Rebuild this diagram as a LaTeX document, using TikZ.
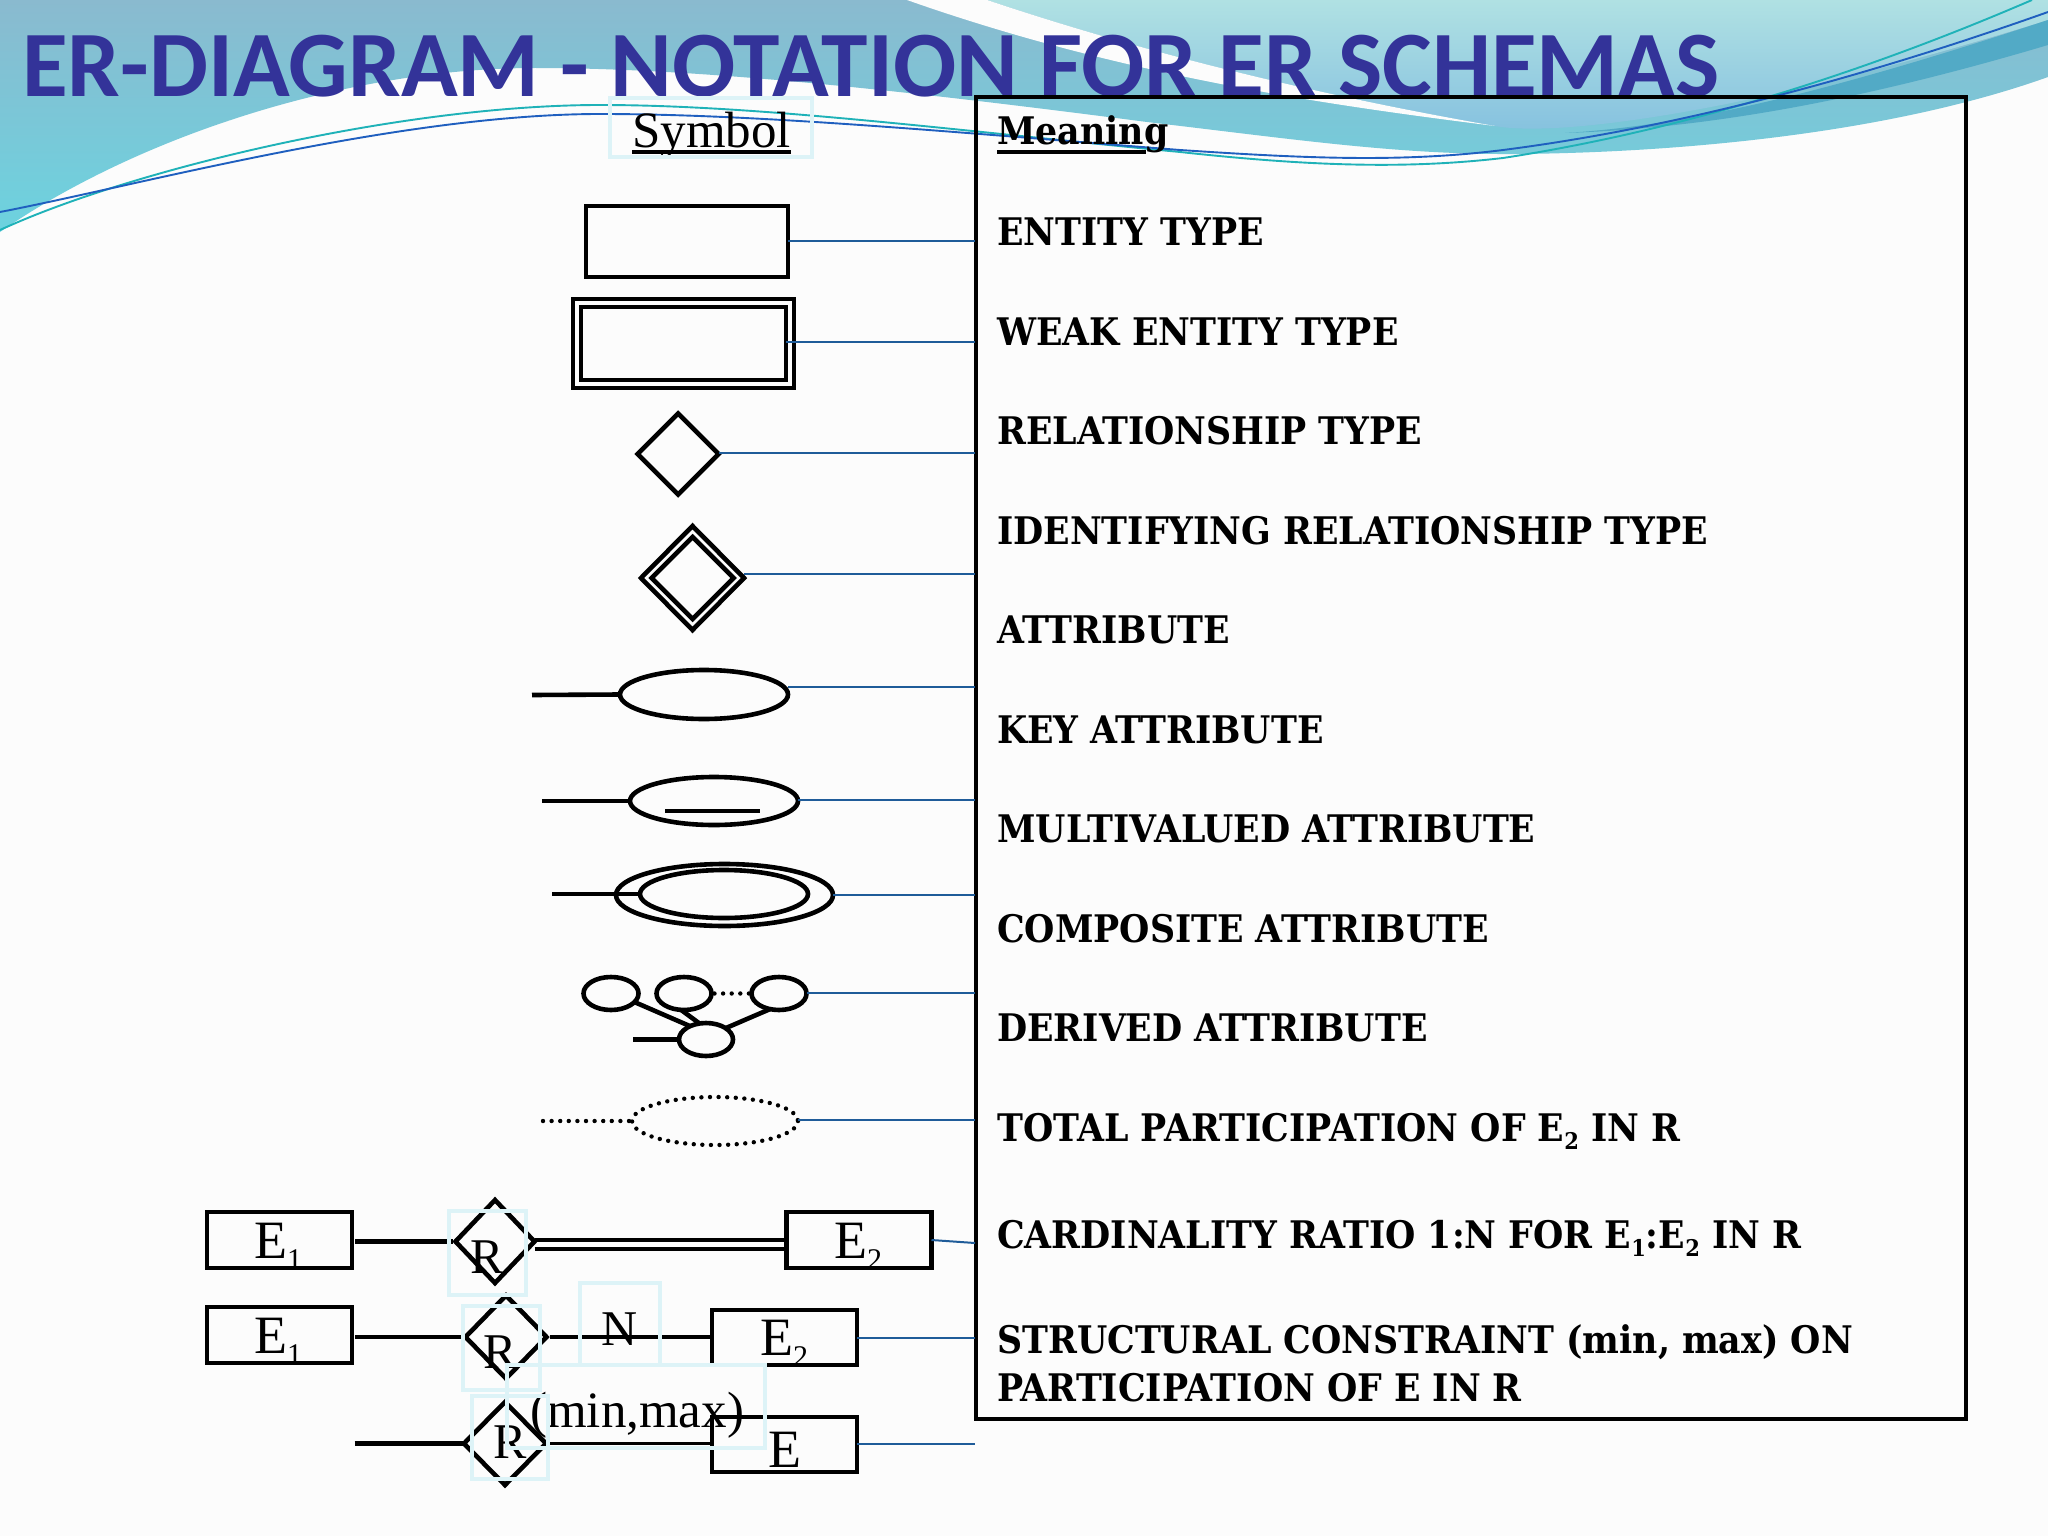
\documentclass[tikz,border=0pt]{standalone}
\usepackage{fontspec}
\setmainfont{Liberation Serif}
\newfontfamily\titlefont{Carlito}
\newfontfamily\meanfont[FakeStretch=0.915]{DejaVu Serif}
\usetikzlibrary{shapes.geometric,calc}
\definecolor{pagebg}{HTML}{FCFCFC}
\definecolor{waveA}{HTML}{8ABACF}
\definecolor{waveB}{HTML}{84C4D5}
\definecolor{waveC}{HTML}{6CD3DF}
\definecolor{waveTop}{HTML}{B0E1E3}
\definecolor{waveLow}{HTML}{84C0DF}
\definecolor{waveDark}{HTML}{52AAC6}
\definecolor{curveTeal}{HTML}{1FB2B8}
\definecolor{curveBlue}{HTML}{1F5FBF}
\definecolor{titleblue}{HTML}{333399}
\definecolor{connblue}{HTML}{1F5C99}
\definecolor{ghost}{HTML}{DDF3F7}
\newcommand{\sbs}[2]{\raisebox{-0.22em}{\fontsize{#1}{#1}\selectfont #2}}
\newsavebox{\ulbox}
\newcommand{\ulword}[3]{\sbox{\ulbox}{#3}\rlap{\rule[#1]{\dimexpr\wd\ulbox-#2\relax}{3.6pt}}\usebox{\ulbox}}
\tikzset{
  shp/.style={draw=black,line width=4.6pt,inner sep=0pt,outer sep=0pt},
  ent/.style={shp,rectangle},
  rel/.style={shp,diamond},
  att/.style={shp,ellipse},
  dotline/.style={line width=4.4pt,line cap=round,dash pattern=on 0pt off 8.6pt},
  conn/.style={connblue,line width=2pt},
  lnk/.style={black,line width=4.6pt},
  lbl/.style={inner sep=0pt,anchor=base west},
  mean/.style={lbl,font=\meanfont\bfseries\fontsize{38}{38}\selectfont},
  sym/.style={lbl,font=\fontsize{54}{54}\selectfont},
  ghostbox/.style={draw=ghost,line width=3.4pt,inner sep=0pt,rectangle}
}
\begin{document}
\begin{tikzpicture}[x=1pt,y=-1pt]
\useasboundingbox (0,0) rectangle (2048,1536);
\fill[pagebg] (0,0) rectangle (2048,1536);
% waves
\shade[top color=waveA,middle color=waveB,bottom color=waveC]
  (0,232) .. controls (140,135) and (350,68) .. (535,68)
  .. controls (700,68) and (900,90) .. (1147,122)
  .. controls (1300,140) and (1400,155) .. (1520,154)
  .. controls (1700,152) and (1900,130) .. (2048,77)
  -- (2048,0) -- (0,0) -- cycle;
\shade[top color=waveTop,bottom color=waveLow]
  (987,0) .. controls (1130,48) and (1300,92) .. (1495,126)
  .. controls (1560,138) and (1760,110) .. (2048,20)
  -- (2048,0) -- cycle;
\fill[pagebg]
  (987,0) .. controls (1130,48) and (1300,92) .. (1495,126)
  .. controls (1320,104) and (1120,75) .. (907,0) -- cycle;
\fill[waveDark]
  (1565,133) .. controls (1700,125) and (1850,85) .. (2048,20)
  -- (2048,45) .. controls (1880,95) and (1720,128) .. (1565,133) -- cycle;
\draw[curveTeal,line width=1.9pt] (0,230) .. controls (130,170) and (400,105) .. (600,105)
  .. controls (760,105) and (950,130) .. (1180,152)
  .. controls (1300,165) and (1400,170) .. (1503,158)
  .. controls (1620,140) and (1800,100) .. (2032,0);
\draw[curveBlue,line width=1.9pt] (0,212) .. controls (140,185) and (400,114) .. (600,114)
  .. controls (760,114) and (950,132) .. (1180,150)
  .. controls (1300,158) and (1400,163) .. (1503,150)
  .. controls (1620,135) and (1800,100) .. (2048,12);
% title
\node[lbl,text=titleblue,font=\titlefont\bfseries\fontsize{93.6}{94}\selectfont] (title) at (22,97) {ER-DIAGRAM - NOTATION FOR ER SCHEMAS};
% meaning frame
\draw[black,line width=4.6pt] (976,97) rectangle (1966,1419);
% free ends of connectors on the frame
\foreach \n/\y in {m1/241,m2/342,m3/453,m4/574,m5/687,m6/800,m7/895,m8/993,m9/1120,m10/1243,m11/1338,m12/1444}
  \coordinate (\n) at (975,\y);
% texts
\node[sym,font=\fontsize{51}{51}\selectfont] (symh) at (632,148) {\ulword{-6pt}{0pt}{Symbol}};
\node[mean] (t0) at (997,145) {\ulword{-9pt}{22pt}{Meaning}};
\node[mean] (t1) at (997,245.5) {ENTITY TYPE};
\node[mean] (t2) at (997,345) {WEAK ENTITY TYPE};
\node[mean] (t3) at (997,444.5) {RELATIONSHIP TYPE};
\node[mean] (t4) at (997,544) {IDENTIFYING RELATIONSHIP TYPE};
\node[mean] (t5) at (997,643.5) {ATTRIBUTE};
\node[mean] (t6) at (997,743) {KEY ATTRIBUTE};
\node[mean] (t7) at (997,842.5) {MULTIVALUED ATTRIBUTE};
\node[mean] (t8) at (997,942) {COMPOSITE ATTRIBUTE};
\node[mean] (t9) at (997,1041.5) {DERIVED ATTRIBUTE};
\node[mean] (t10) at (997,1141) {TOTAL PARTICIPATION OF E\sbs{23}{2} IN R};
\node[mean] (t11) at (997,1248) {CARDINALITY RATIO 1:N FOR E\sbs{23}{1}:E\sbs{23}{2} IN R};
\node[mean] (t12) at (997,1353) {STRUCTURAL CONSTRAINT (min, max) ON};
\node[mean] (t13) at (997,1401) {PARTICIPATION OF E IN R};
% symbols
\node[ent,minimum width=202pt,minimum height=71pt] (ent1) at (687,241.5) {};
\node[ent,minimum width=221pt,minimum height=89pt] (wk1) at (683.5,343.5) {};
\node[ent,minimum width=205pt,minimum height=73pt] (wk2) at (683.5,343.5) {};
\node[rel,minimum width=81pt,minimum height=81pt] (rel1) at (678,454) {};
\node[rel,minimum width=103pt,minimum height=104pt] (idr1) at (692.5,578) {};
\node[rel,minimum width=82pt,minimum height=82pt] (idr2) at (692.5,578) {};
\node[att,minimum width=168pt,minimum height=49pt] (atr) at (704,694.5) {};
\coordinate (atrl) at (532,695);
\node[att,minimum width=168pt,minimum height=48pt] (key) at (714,801) {};
\coordinate (keyl) at (542,801);
\coordinate (keya) at (665,811);
\coordinate (keyb) at (760,811);
\node[att,minimum width=217pt,minimum height=62pt] (mv1) at (724.5,895) {};
\node[att,minimum width=168pt,minimum height=48pt] (mv2) at (724,894) {};
\coordinate (mvl) at (552,894);
\node[att,minimum width=55pt,minimum height=33pt] (ca) at (611,993.5) {};
\node[att,minimum width=55pt,minimum height=33pt] (cb) at (684,993.5) {};
\node[att,minimum width=55pt,minimum height=33pt] (cc) at (779,993.5) {};
\node[att,minimum width=54pt,minimum height=33pt] (cd) at (706,1039.5) {};
\coordinate (cdl) at (633,1039.5);
\node[att,draw=none,minimum width=166pt,minimum height=48pt] (der) at (715,1121) {};
\draw[black,dotline] (der.center) circle[x radius=83,y radius=24];
\coordinate (derl) at (543,1121);
% bottom rows
\node[ent,minimum width=145pt,minimum height=56pt] (e1a) at (279.5,1240) {};
\node[ent,minimum width=145pt,minimum height=56pt] (e2a) at (859,1240) {};
\node[rel,minimum width=79pt,minimum height=83pt] (r1) at (495,1241.5) {};
\node[ent,minimum width=145pt,minimum height=56pt] (e1b) at (279.5,1335) {};
\node[ent,minimum width=145pt,minimum height=55pt] (e2b) at (784.5,1337.5) {};
\node[rel,minimum width=81pt,minimum height=83pt] (r2) at (506,1337) {};
\node[ent,minimum width=145pt,minimum height=55pt] (e3) at (784.5,1444.5) {};
\node[rel,minimum width=82pt,minimum height=83pt] (r3) at (505,1443.5) {};
\coordinate (r3l) at (354.5,1443.5);
% links
\draw[lnk] (atrl) -- (atr.west);
\draw[lnk] (keyl) -- (key.west);
\draw[lnk] (keya) -- (keyb);
\draw[lnk] (mvl) -- (mv2.west);
\draw[lnk] (ca.-20) -- (cd.140);
\draw[lnk] (cb.-100) -- (cd.112);
\draw[lnk] (cc.-120) -- (cd.30);
\draw[lnk] (cdl) -- (cd.west);
\draw[black,dotline] (cb.east) ++(3,0) -- (cc.west);
\draw[black,dotline] (derl) -- (der.west);
\draw[lnk,shorten <=3pt,shorten >=3pt] (e1a.east |- r1.west) -- (r1.west);
\draw[lnk,shorten <=3pt,shorten >=3pt] (e1b.east |- r2.west) -- (r2.west);
\draw[lnk,shorten <=3pt] (r2.east) -- (e2b.west |- r2.east);
\draw[lnk] (r3l) -- (r3.west);
\draw[lnk,line width=3pt] (r3.east) -- (e3.west |- r3.east);
\draw[black,line width=3.8pt] ([yshift=-7.5pt]r1.east) -- ([yshift=-7.5pt]r1.east -| e2a.west);
\draw[black,line width=3.8pt] ([yshift=1.5pt]r1.east) -- ([yshift=1.5pt]r1.east -| e2a.west);
% blue connectors
\draw[conn] (ent1.east |- m1) -- (m1);
\draw[conn] (wk2.east |- m2) -- (m2);
\draw[conn] (rel1.east |- m3) -- (m3);
\draw[conn] (idr1.east |- m4) -- (m4);
\draw[conn] (atr.east |- m5) -- (m5);
\draw[conn] (key.east |- m6) -- (m6);
\draw[conn] (mv1.east |- m7) -- (m7);
\draw[conn] (cc.east |- m8) -- (m8);
\draw[conn] (der.east |- m9) -- (m9);
\draw[conn] (e2a.east) -- (m10);
\draw[conn] (e2b.east |- m11) -- (m11);
\draw[conn] (e3.east |- m12) -- (m12);
% labels in bottom rows
\node[sym] (le1a) at (254,1258) {E\sbs{30}{1}};
\node[sym] (le2a) at (834,1258) {E\sbs{30}{2}};
\node[sym] (le1b) at (254,1353) {E\sbs{30}{1}};
\node[sym] (le2b) at (760,1355) {E\sbs{30}{2}};
\node[sym] (le3) at (768,1467) {E};
\node[sym,font=\fontsize{50}{50}\selectfont] (lr1) at (470,1273) {R};
\node[sym,font=\fontsize{50}{50}\selectfont] (lr2) at (483,1368) {R};
\node[sym,font=\fontsize{50}{50}\selectfont] (lr3) at (493,1458) {R};
\node[sym,font=\fontsize{50}{50}\selectfont] (ln) at (601,1345) {N};
\node[sym,font=\fontsize{51}{51}\selectfont] (lmm) at (530,1427) {(min,max)};
% pale text frames
\node[ghostbox,minimum width=202pt,minimum height=59pt] (g1) at (711,127.5) {};
\node[ghostbox,minimum width=77pt,minimum height=84pt] (g2) at (487.5,1253) {};
\node[ghostbox,minimum width=77pt,minimum height=84pt] (g3) at (501.5,1348) {};
\node[ghostbox,minimum width=80pt,minimum height=82pt] (g4) at (620,1324) {};
\node[ghostbox,minimum width=258pt,minimum height=83pt] (g5) at (636,1406.5) {};
\node[ghostbox,minimum width=76pt,minimum height=83pt] (g6) at (510,1437.5) {};
\end{tikzpicture}
\end{document}
